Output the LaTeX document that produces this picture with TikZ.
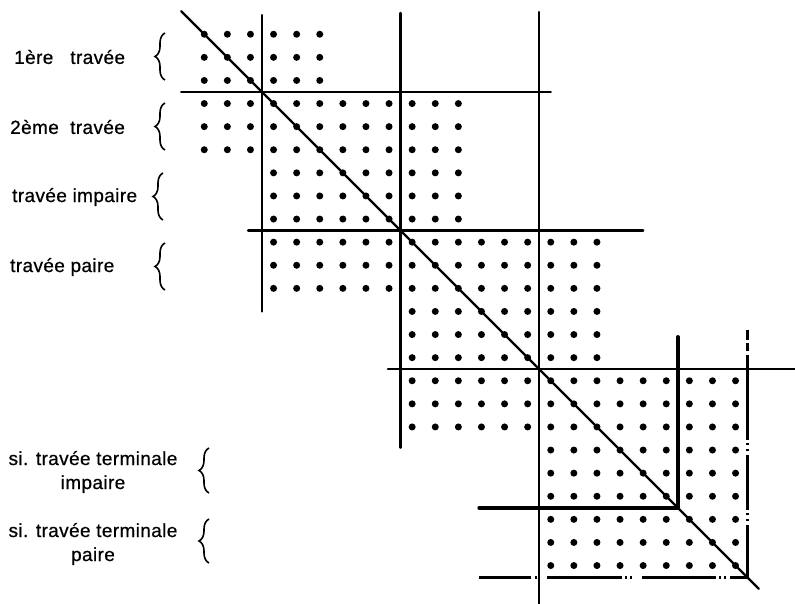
\documentclass[tikz,border=0pt]{standalone}
\usepackage{fontspec}
\setmainfont{Liberation Sans}
\newfontfamily\lblfont{Liberation Sans}[FakeBold=0.6, LetterSpace=2]
\usetikzlibrary{decorations.pathreplacing}
\begin{document}
\begin{tikzpicture}[x=1pt,y=-1pt,
  gridline/.style={line width=2.4pt, line cap=round},
  heavyline/.style={line width=3.6pt, line cap=round},
  brokenh/.style={line width=3.2pt, dash pattern=on 52pt off 4pt on 2pt off 10pt on 75pt off 3pt on 2pt off 3pt on 2pt off 10pt on 74pt off 3pt on 2pt off 3pt on 2pt off 4pt on 30pt},
  brokenv/.style={line width=2.8pt, dash pattern=on 10pt off 3pt on 8pt off 4pt on 85pt off 3pt on 2pt off 4pt on 2pt off 4pt on 55pt off 3pt on 2pt off 4pt on 2pt off 4pt on 70pt},
  lbl/.style={font=\lblfont\fontsize{19}{24}\selectfont, anchor=west, inner sep=0pt},
  tlbl/.style={font=\lblfont\fontsize{19}{24}\selectfont, align=center, inner sep=0pt},
  brc/.style={decorate, decoration={brace, amplitude=10pt}, line width=1.6pt}]

\useasboundingbox (0,0) rectangle (795,604);

% labels
\node[lbl] (l1) at (14,57) {1ère~~~travée};
\node[lbl] (l2) at (10,127) {2ème~~travée};
\node[lbl] (l3) at (12,197) {travée impaire};
\node[lbl] (l4) at (10,267) {travée paire};
\node[tlbl] (l5) at (93,472) {si. travée terminale\\impaire};
\node[tlbl] (l6) at (93,544) {si. travée terminale\\paire};

% braces
\draw[brc] (165,80) -- (165,33);
\draw[brc] (165,150) -- (165,103);
\draw[brc] (163,220) -- (163,173);
\draw[brc] (165,290) -- (165,243);
\draw[brc] (209,493) -- (209,448);
\draw[brc] (209,563) -- (209,519);

\begin{scope}[shift={(262,92)}, x=23.1pt, y=-23.1pt]
  % dots
  \foreach \ya/\yb/\xa/\xb in {-3/0/-3/3, 0/3/-3/9, 3/6/0/9, 6/9/0/15, 9/12/6/15, 12/15/6/21, 15/21/12/21}{
    \pgfmathtruncatemacro\ye{\yb-1}
    \pgfmathtruncatemacro\xe{\xb-1}
    \foreach \r in {\ya,...,\ye}
      \foreach \c in {\xa,...,\xe}
        \fill (\c+0.5,\r+0.5) circle (3.5pt);
  }
  % coordinates
  \coordinate (d0) at (-3.5,-3.5);
  \coordinate (d1) at (21.5,21.5);
  \coordinate (v1a) at (0,-3.33);  \coordinate (v1b) at (0,9.5);
  \coordinate (v2a) at (6,-3.42);  \coordinate (v2b) at (6,15.4);
  \coordinate (v3a) at (12,-3.46); \coordinate (v3b) at (12,22.3);
  \coordinate (h1a) at (-3.5,0);   \coordinate (h1b) at (12.5,0);
  \coordinate (h2a) at (-0.6,6);   \coordinate (h2b) at (16.5,6);
  \coordinate (h3a) at (5.45,12);  \coordinate (h3b) at (23.1,12);
  \coordinate (h4a) at (9.4,18);   \coordinate (c18) at (18,18);
  \coordinate (v4a) at (18,10.6);
  \coordinate (h5a) at (9.4,21);   \coordinate (c21) at (21,21);
  \coordinate (v5a) at (21,10.3);
  % lines
  \draw[gridline] (d0) -- (d1);
  \draw[gridline] (v1a) -- (v1b);
  \draw[gridline] (v2a) -- (v2b);
  \draw[gridline] (v3a) -- (v3b);
  \draw[gridline] (h1a) -- (h1b);
  \draw[gridline] (h2a) -- (h2b);
  \draw[gridline] (h3a) -- (h3b);
  \draw[heavyline] (h4a) -- (c18);
  \draw[heavyline] (v4a) -- (c18);
  \draw[brokenh] (h5a) -- (c21);
  \draw[brokenv] (v5a) -- (c21);
\end{scope}
\end{tikzpicture}
\end{document}
